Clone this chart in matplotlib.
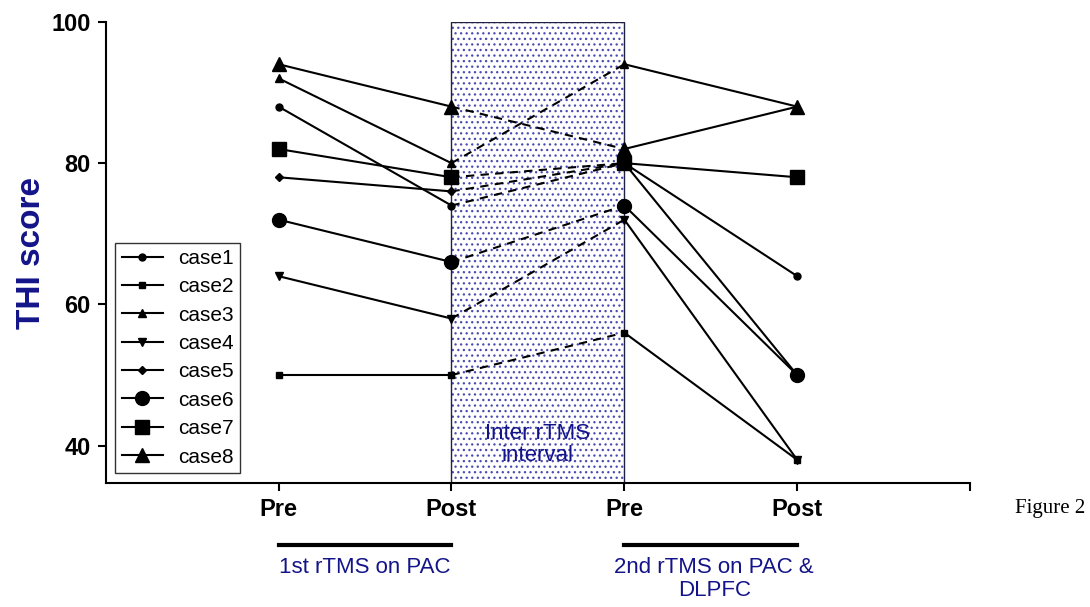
import matplotlib
matplotlib.use("Agg")
import matplotlib.pyplot as plt
from matplotlib.patches import Rectangle

plt.rcParams["font.family"] = ["Liberation Sans", "DejaVu Sans"]
plt.rcParams["hatch.linewidth"] = 0.9

# time points: 1st Pre, 1st Post, 2nd Pre, 2nd Post
x_pos = [1, 2, 3, 4]
x_labels = ["Pre", "Post", "Pre", "Post"]

cases = ["case1", "case2", "case3", "case4", "case5", "case6", "case7", "case8"]
scores = [
    [88, 74, 80, 64],
    [50, 50, 56, 38],
    [92, 80, 94, 88],
    [64, 58, 72, 38],
    [78, 76, 80, 50],
    [72, 66, 74, 50],
    [82, 78, 80, 78],
    [94, 88, 82, 88],
]
markers = ["o", "s", "^", "v", "D", "o", "s", "^"]
msizes = [5, 5, 6, 6, 5, 10, 10, 10]

NAVY = "#14148a"

fig = plt.figure(figsize=(10.9, 6.07), dpi=100)
ax = fig.add_axes([0.097, 0.204, 0.793, 0.760])

# inter rTMS interval shading
ax.add_patch(Rectangle((2, 34.7), 1, 100 - 34.7, facecolor="white",
                       edgecolor="#4a4ab0", hatch="...", lw=0, zorder=0))
ax.add_patch(Rectangle((2, 34.7), 1, 100 - 34.7, facecolor="none",
                       edgecolor="#202040", lw=1.0, zorder=1))
ax.text(2.5, 40.2, "Inter rTMS\ninterval", ha="center", va="center",
        color=NAVY, fontsize=16, linespacing=1.05, zorder=2)

handles = []
for name, vals, m, ms in zip(cases, scores, markers, msizes):
    s = ms * 0.8 if m == "D" else ms
    ax.plot(x_pos[:2], vals[:2], color="black", lw=1.5, zorder=3)
    ax.plot(x_pos[1:3], vals[1:3], color="black", lw=1.5, ls=(0, (4, 3)), zorder=3)
    ax.plot(x_pos[2:], vals[2:], color="black", lw=1.5, zorder=3)
    ax.plot(x_pos, vals, ls="none", marker=m, ms=s, color="black", zorder=4)
    handles.append(ax.plot([], [], color="black", lw=1.5, marker=m, ms=s)[0])

leg = ax.legend(handles, cases, loc="lower left", bbox_to_anchor=(-0.001, 0.0),
                fontsize=15, frameon=True, fancybox=False, edgecolor="black",
                handlelength=2.0, labelspacing=0.45, borderpad=0.3, handletextpad=0.7)
leg.get_frame().set_linewidth(1.0)

ax.set_xlim(0, 5)
ax.set_ylim(34.7, 100)
ax.set_xticks([1, 2, 3, 4, 5])
ax.set_xticklabels(x_labels + [""])
ax.set_yticks([40, 60, 80, 100])
for lab in ax.get_xticklabels() + ax.get_yticklabels():
    lab.set_fontweight("bold")
ax.tick_params(axis="both", direction="out", length=6, width=1.5, labelsize=17, pad=5)
ax.spines["top"].set_visible(False)
ax.spines["right"].set_visible(False)
ax.spines["left"].set_linewidth(1.5)
ax.spines["bottom"].set_linewidth(1.5)

ax.set_ylabel("THI score", fontsize=24, fontweight="bold", color=NAVY, labelpad=3)

# session brackets under the axis
tr = ax.get_xaxis_transform()
ax.plot([1, 2], [-0.134, -0.134], transform=tr, color="black", lw=3, clip_on=False)
ax.plot([3, 4], [-0.134, -0.134], transform=tr, color="black", lw=3, clip_on=False)
ax.text(1.5, -0.16, "1st rTMS on PAC", transform=tr, ha="center", va="top",
        color=NAVY, fontsize=16)
ax.text(3.52, -0.16, "2nd rTMS on PAC &\nDLPFC", transform=tr, ha="center", va="top",
        color=NAVY, fontsize=16, linespacing=1.15)

fig.text(0.931, 0.163, "Figure 2", family="Liberation Serif", fontsize=15,
         ha="left", va="center")

fig.savefig("out.png", dpi=100)
